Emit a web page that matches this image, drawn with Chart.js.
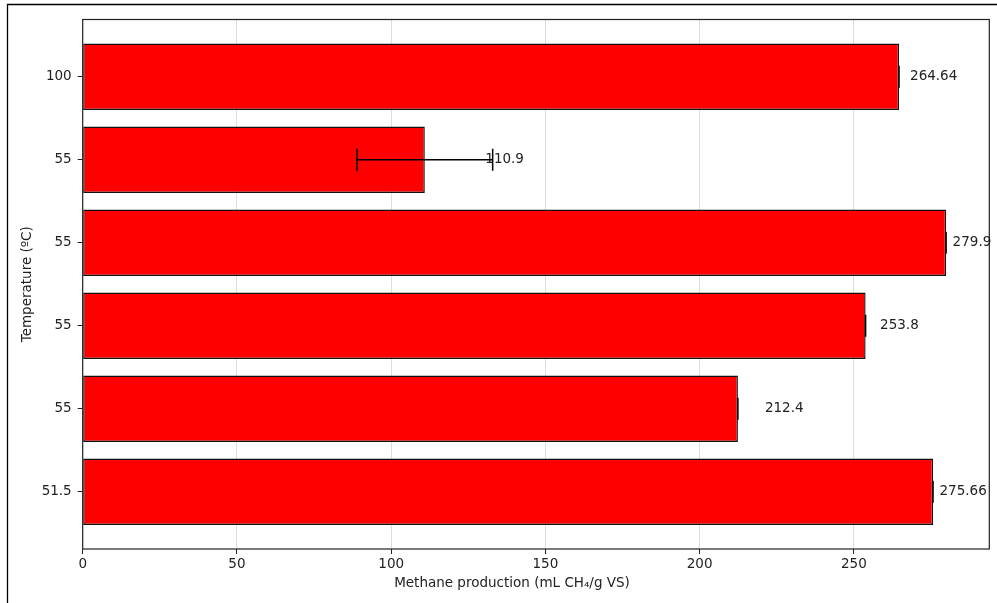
<!DOCTYPE html>
<html>
<head>
<meta charset="utf-8">
<script src="https://cdn.jsdelivr.net/npm/chart.js@4.4.1/dist/chart.umd.min.js"></script>
<style>
  html, body { margin: 0; padding: 0; background: #fff; }
  #wrap { position: relative; width: 997px; height: 603px; }
</style>
</head>
<body>
<div id="wrap"><canvas id="chart" width="997" height="603"></canvas></div>
<script>
// Temperature groups, top to bottom
const temperatures = ['100', '55', '55', '55', '55', '51.5'];
// Mean methane yield (mL CH4/g VS) and its standard deviation
const methane = [264.64, 110.9, 279.9, 253.8, 212.4, 275.66];
const methaneSd = [0, 22, 0, 0, 0, 0];
const xTicks = [0, 50, 100, 150, 200, 250];

const FONT = '"DejaVu Sans", sans-serif';
const n = temperatures.length;
// first entry goes on top: row index counts up from the bottom
const rowOf = i => n - 1 - i;

// gap (px) between each bar end and its value label
const labelGap = [11, 60.5, 6.5, 14.5, 27, 6.5];

const overlay = {
  id: 'overlay',
  afterDraw(chart) {
    const { ctx, chartArea: a, scales: { x, y } } = chart;
    ctx.save();

    // plot frame
    ctx.strokeStyle = '#222';
    ctx.lineWidth = 1.2;
    ctx.strokeRect(a.left, a.top, a.right - a.left, a.bottom - a.top);

    // value labels
    ctx.fillStyle = '#222';
    ctx.font = '13.5px ' + FONT;
    ctx.textAlign = 'left';
    ctx.textBaseline = 'middle';
    methane.forEach((v, i) => {
      ctx.fillText(String(v), x.getPixelForValue(v) + labelGap[i], y.getPixelForValue(rowOf(i)));
    });

    // error bars with caps
    ctx.strokeStyle = '#000';
    ctx.lineWidth = 1.5;
    methane.forEach((v, i) => {
      const yc = y.getPixelForValue(rowOf(i));
      const x0 = x.getPixelForValue(v - methaneSd[i]);
      const x1 = x.getPixelForValue(v + methaneSd[i]);
      ctx.beginPath();
      ctx.moveTo(x0, yc); ctx.lineTo(x1, yc);
      ctx.moveTo(x0, yc - 11); ctx.lineTo(x0, yc + 11);
      ctx.moveTo(x1, yc - 11); ctx.lineTo(x1, yc + 11);
      ctx.stroke();
    });

    // x axis caption, sits a little left of the plot centre
    ctx.fillStyle = '#222';
    ctx.textAlign = 'center';
    ctx.fillText('Methane production (mL CH\u2084/g VS)', (a.left + a.right) / 2 - 24, 583);

    // outer figure edge (top and left)
    ctx.strokeStyle = '#000';
    ctx.lineWidth = 1.3;
    ctx.beginPath();
    ctx.moveTo(7.5, chart.height);
    ctx.lineTo(7.5, 4.5);
    ctx.lineTo(chart.width, 4.5);
    ctx.stroke();

    ctx.restore();
  }
};

new Chart(document.getElementById('chart'), {
  type: 'bar',
  data: {
    datasets: [{
      data: methane.map((v, i) => ({ x: v, y: rowOf(i) })),
      backgroundColor: '#ff0000',
      borderColor: '#111',
      borderWidth: 1.4,
      borderSkipped: false,
      barPercentage: 0.8,
      categoryPercentage: 1
    }]
  },
  options: {
    indexAxis: 'y',
    responsive: false,
    animation: false,
    devicePixelRatio: 1,
    layout: { padding: { top: 19.5, right: 7.7, bottom: 0, left: 0 } },
    plugins: { legend: { display: false }, tooltip: { enabled: false } },
    scales: {
      x: {
        type: 'linear',
        min: 0,
        max: 293.9,
        z: 1,
        afterFit: s => { s.height = 54; },
        afterBuildTicks: s => { s.ticks = xTicks.map(v => ({ value: v })); },
        border: { display: false },
        grid: { color: 'rgba(200,200,200,0.6)', lineWidth: 1, tickColor: '#222', tickLength: 5 },
        ticks: { font: { family: FONT, size: 13.5 }, color: '#222', padding: 2, maxRotation: 0 }
      },
      y: {
        type: 'linear',
        min: -0.69,
        max: 5.69,
        offset: false,
        afterFit: s => { s.width = 82.7; },
        afterBuildTicks: s => { s.ticks = temperatures.map((t, i) => ({ value: rowOf(i) })); },
        border: { display: false },
        grid: { drawOnChartArea: false, offset: false, tickColor: '#222', tickLength: 5 },
        ticks: {
          font: { family: FONT, size: 13.5 },
          color: '#222',
          padding: 6,
          callback: v => temperatures[rowOf(v)]
        },
        title: {
          display: true,
          text: 'Temperature (\u00baC)',
          font: { family: FONT, size: 13.5 },
          color: '#222',
          padding: { top: 19.7, bottom: 0 }
        }
      }
    }
  },
  plugins: [overlay]
});
</script>
</body>
</html>
